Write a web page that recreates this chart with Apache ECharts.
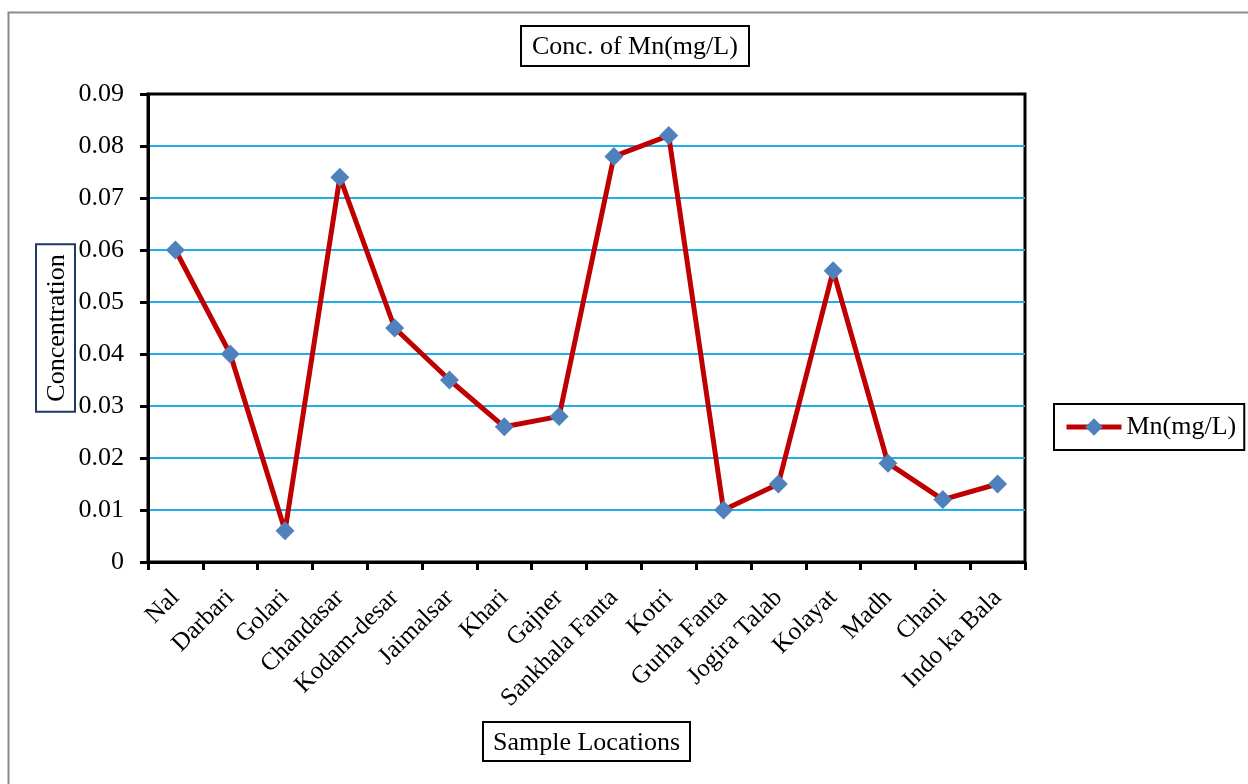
<!DOCTYPE html>
<html>
<head>
<meta charset="utf-8">
<title>Conc. of Mn(mg/L)</title>
<script src="https://cdn.jsdelivr.net/npm/echarts@6/dist/echarts.min.js"></script>
<style>
  html, body { margin: 0; padding: 0; background: #ffffff; }
  #chart { width: 1248px; height: 784px; }
</style>
</head>
<body>
<div id="chart"></div>
<script>
// Sampling sites along the x axis
const locations = [
  'Nal', 'Darbari', 'Golari', 'Chandasar', 'Kodam-desar', 'Jaimalsar',
  'Khari', 'Gajner', 'Sankhala Fanta', 'Kotri', 'Gurha Fanta',
  'Jogira Talab', 'Kolayat', 'Madh', 'Chani', 'Indo ka Bala'
];

// Manganese concentration measured at each site (mg/L)
const mnValues = [
  0.060, 0.040, 0.006, 0.074, 0.045, 0.035, 0.026, 0.028,
  0.078, 0.082, 0.010, 0.015, 0.056, 0.019, 0.012, 0.015
];

// Value axis range and tick step
const yMin = 0;
const yMax = 0.09;
const yStep = 0.01;

const serif = '"Liberation Serif", "Times New Roman", serif';

const chart = echarts.init(document.getElementById('chart'), null, { renderer: 'canvas' });

chart.setOption({
  backgroundColor: '#ffffff',
  animation: false,
  textStyle: { fontFamily: serif, color: '#000000' },
  graphic: [{
    type: 'rect',
    left: 6, top: 10,
    shape: { width: 1300, height: 820 },
    style: { fill: 'none', stroke: '#8c8c8c', lineWidth: 2 },
    silent: true,
    z: -1
  }],
  title: {
    text: 'Conc. of Mn(mg/L)',
    left: 521, top: 26,
    padding: [8, 11, 6, 11],
    borderColor: '#000000',
    borderWidth: 2,
    textStyle: { fontFamily: serif, fontSize: 26, fontWeight: 'normal', color: '#000000' }
  },
  legend: {
    left: 1054, top: 404,
    padding: [10, 8, 10, 10],
    borderColor: '#000000',
    borderWidth: 2,
    itemWidth: 55,
    itemHeight: 22,
    itemGap: 4,
    lineStyle: { width: 5 },
    textStyle: { fontFamily: serif, fontSize: 26, color: '#000000' },
    data: ['Mn(mg/L)']
  },
  grid: {
    left: 148, right: 223, top: 94, bottom: 222,
    show: true,
    borderColor: '#000000',
    borderWidth: 3,
    containLabel: false
  },
  xAxis: {
    type: 'category',
    data: locations,
    boundaryGap: true,
    name: 'Sample Locations',
    nameLocation: 'middle',
    nameGap: 160,
    nameMoveOverlap: false,
    nameTextStyle: {
      fontFamily: serif, fontSize: 26, color: '#000000',
      borderColor: '#000000', borderWidth: 2,
      padding: [8, 10, 5, 10]
    },
    axisLine: { show: true, lineStyle: { color: '#000000', width: 3 } },
    axisTick: { show: true, inside: false, length: 8, alignWithLabel: false, lineStyle: { color: '#000000', width: 3 } },
    axisLabel: {
      interval: 0,
      rotate: 45,
      margin: 32,
      fontFamily: serif, fontSize: 25, color: '#000000'
    },
    splitLine: { show: false }
  },
  yAxis: {
    type: 'value',
    min: yMin, max: yMax, interval: yStep,
    name: 'Concentration',
    nameLocation: 'middle',
    nameRotate: 90,
    nameGap: 73,
    nameMoveOverlap: false,
    nameTextStyle: {
      fontFamily: serif, fontSize: 26, color: '#000000',
      borderColor: '#1f3864', borderWidth: 2,
      padding: [8, 10, 5, 10]
    },
    axisLine: { show: true, lineStyle: { color: '#000000', width: 3 } },
    axisTick: { show: true, inside: false, length: 8, lineStyle: { color: '#000000', width: 3 } },
    axisLabel: {
      margin: 24,
      fontFamily: serif, fontSize: 26, color: '#000000',
      formatter: v => (v === 0 ? '0' : v.toFixed(2))
    },
    splitLine: { show: true, showMaxLine: false, lineStyle: { color: '#1cb0ec', width: 2 } }
  },
  series: [{
    name: 'Mn(mg/L)',
    type: 'line',
    data: mnValues,
    symbol: 'diamond',
    symbolSize: 19,
    lineStyle: { color: '#c00000', width: 5 },
    itemStyle: { color: '#4f81bd', borderWidth: 0 },
    z: 3
  }]
});
</script>
</body>
</html>
